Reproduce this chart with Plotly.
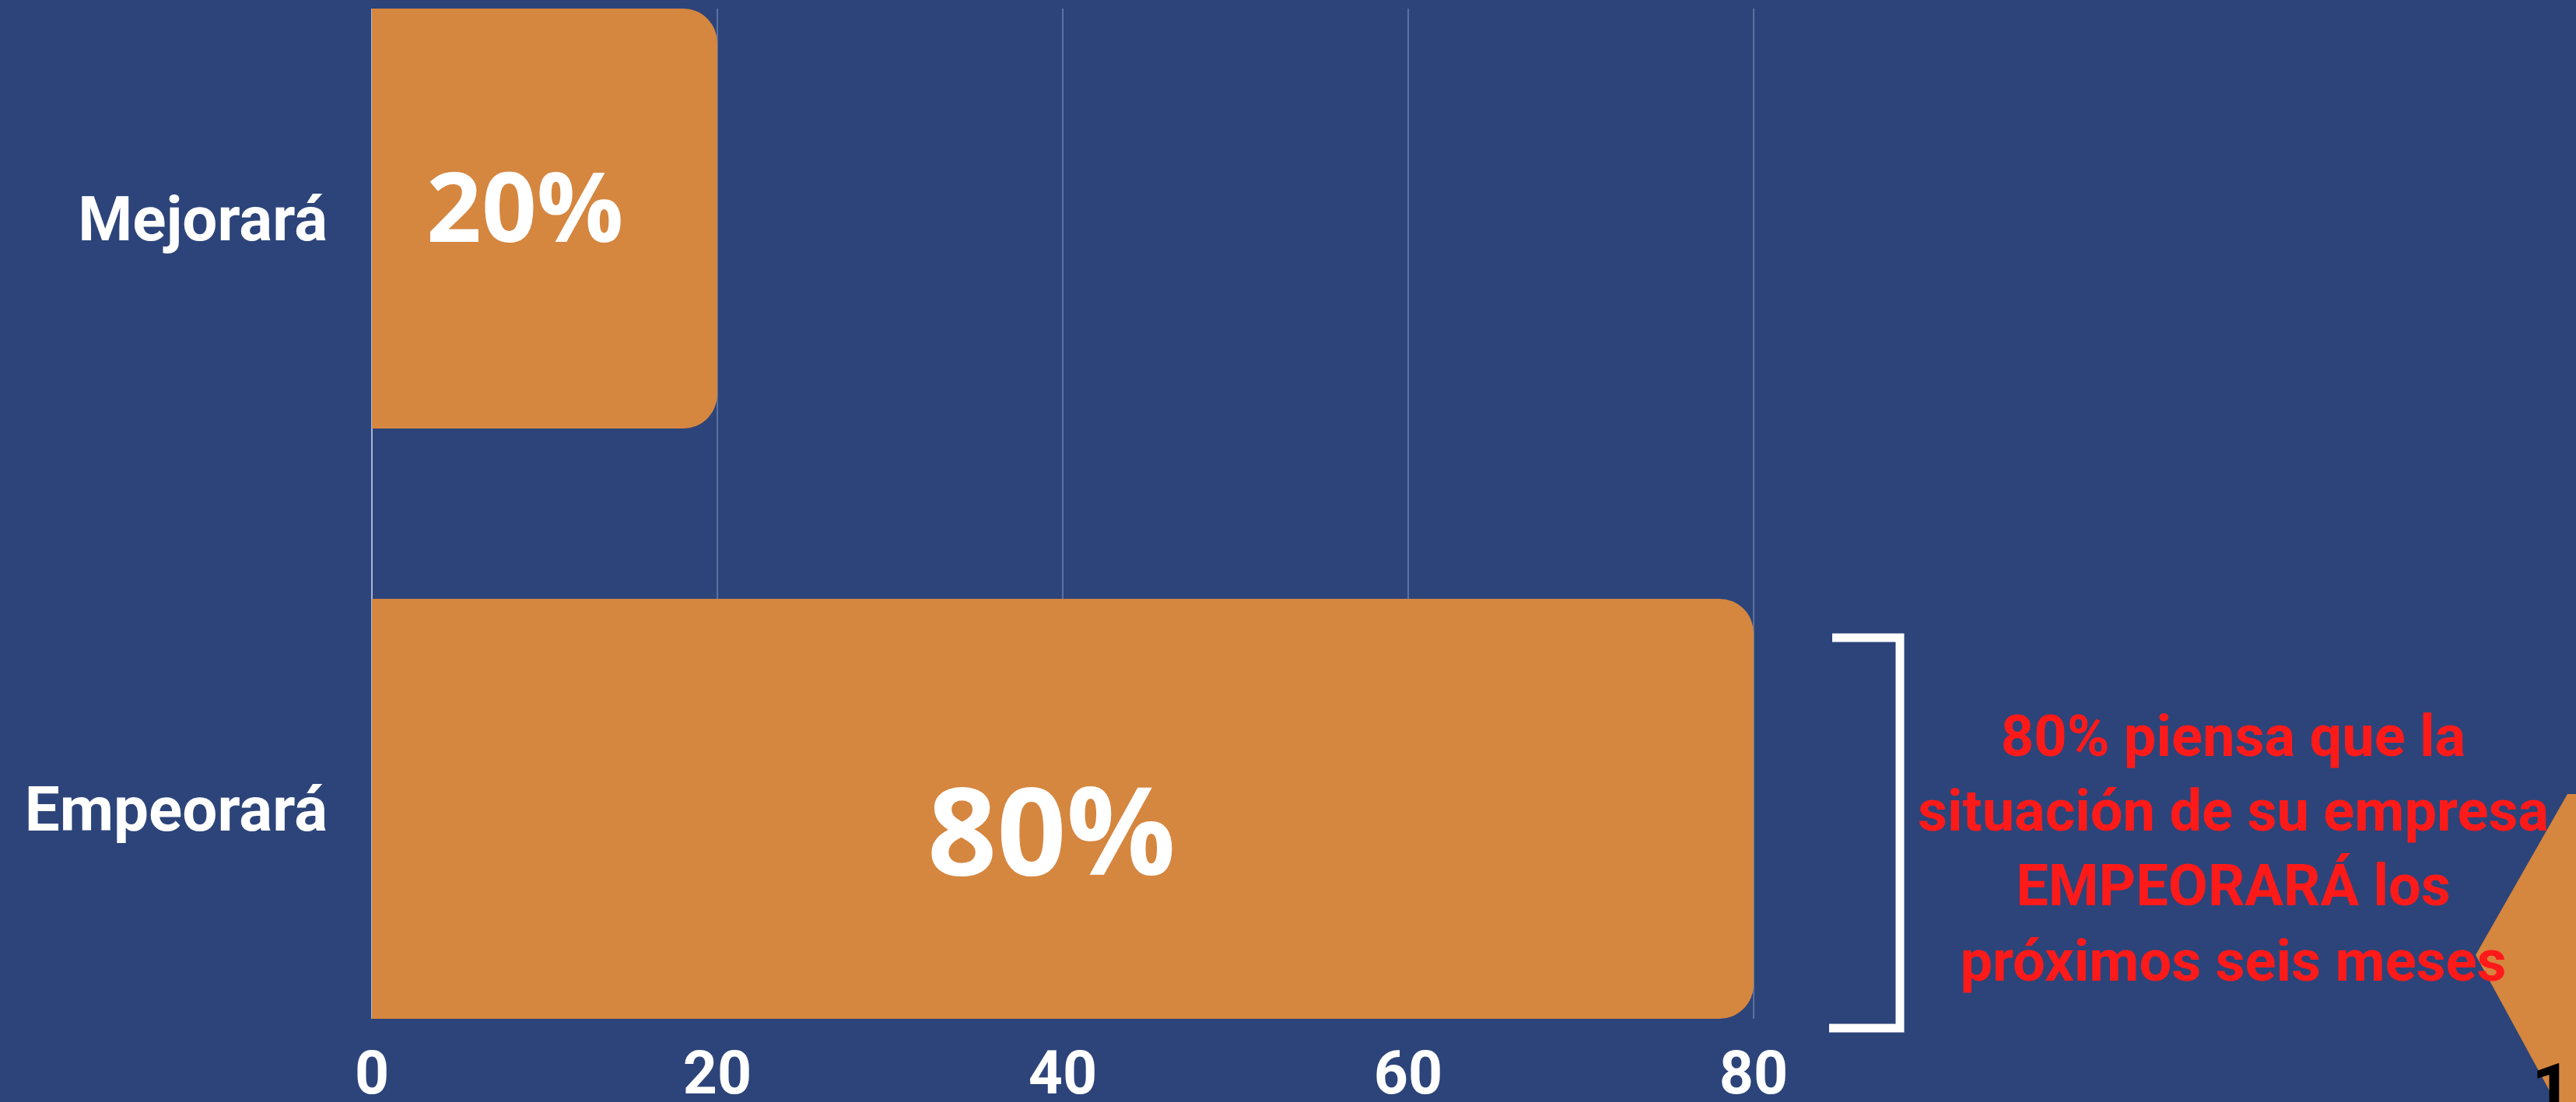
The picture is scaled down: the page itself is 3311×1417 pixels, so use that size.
import plotly.graph_objects as go

categories = ["Mejorará", "Empeorará"]
values = [20, 80]
value_labels = ["20%", "80%"]
label_sizes = [124, 156]
x_ticks = [0, 20, 40, 60, 80]
note_lines = ["80% piensa que la", "situación de su empresa", "EMPEORARÁ los", "próximos seis meses"]
page_number = "1"

BG = "#2C4479"
ORANGE = "#D5863F"

W, H = 3311, 1417
L, R, T, B = 478, 613, 11, 107
PW, PH = W - L - R, H - T - B


def px(x):
    return (x - L) / PW


def py(y):
    return (H - B - y) / PH


bar_w = 0.7115

fig = go.Figure(
    go.Bar(
        y=categories,
        x=values,
        orientation="h",
        width=bar_w,
        marker=dict(color=ORANGE, cornerradius=44, line=dict(width=0)),
        hoverinfo="skip",
    )
)

# value labels inside bars (placed at bar middles from the data)
label_shifts = [(-25, 19), (-15, -25)]
for cat, v, lab, sz, (dx, dy) in zip(categories, values, value_labels, label_sizes, label_shifts):
    fig.add_annotation(
        x=v / 2, y=cat, xref="x", yref="y", text=lab, showarrow=False,
        xanchor="center", yanchor="middle", xshift=dx, yshift=dy,
        font=dict(family="Open Sans", size=sz, color="white", weight="bold"),
    )

fig.update_layout(
    width=W,
    height=H,
    margin=dict(l=L, r=R, t=T, b=B, pad=0, autoexpand=False),
    paper_bgcolor=BG,
    plot_bgcolor=BG,
    showlegend=False,
    xaxis=dict(
        range=[0, 100],
        tickvals=x_ticks,
        ticktext=[str(v) for v in x_ticks],
        showgrid=True,
        gridcolor="#5B71A1",
        gridwidth=2,
        zeroline=True,
        zerolinecolor="#A9B5D6",
        zerolinewidth=2,
        showline=False,
        automargin=False,
        tickfont=dict(family="Roboto", size=77, color="white", weight="bold"),
        ticklabelstandoff=18,
    ),
    yaxis=dict(
        type="category",
        range=[1 + bar_w / 2, -bar_w / 2],
        showgrid=False,
        zeroline=False,
        showline=False,
        automargin=False,
        tickfont=dict(family="Roboto", size=80, color="white", weight="bold"),
        ticklabelstandoff=56,
    ),
)

# bracket
fig.add_shape(
    type="path",
    xref="paper",
    yref="paper",
    path=f"M {px(2355)},{py(820)} L {px(2442)},{py(820)} L {px(2442)},{py(1322)} L {px(2351)},{py(1322)}",
    line=dict(color="white", width=11),
)

# decorative orange shape at right edge
pts = [(3182, 1228), (3300, 1021), (3420, 1021), (3420, 1500), (3330, 1500)]
path = "M " + " L ".join(f"{px(a)},{py(b)}" for a, b in pts) + " Z"
fig.add_shape(type="path", xref="paper", yref="paper", path=path,
              fillcolor=ORANGE, line=dict(width=0), layer="above")

fig.add_annotation(
    x=px(2870), y=py(1091), xref="paper", yref="paper",
    text="<br>".join(note_lines),
    showarrow=False, xanchor="center", yanchor="middle", align="center",
    font=dict(family="Roboto", size=74, color="#FF1A1A", weight="bold"),
)

fig.add_annotation(
    x=px(3280), y=py(1401), xref="paper", yref="paper",
    text=page_number, showarrow=False, xanchor="center", yanchor="middle",
    font=dict(family="Roboto", size=90, color="black", weight="bold"),
)

fig.write_html(
    "out.html",
    config={"displayModeBar": False},
    post_script="document.body.style.margin='0';document.body.style.padding='0';"
                "document.body.style.overflow='hidden';document.body.style.background='" + BG + "';",
)
